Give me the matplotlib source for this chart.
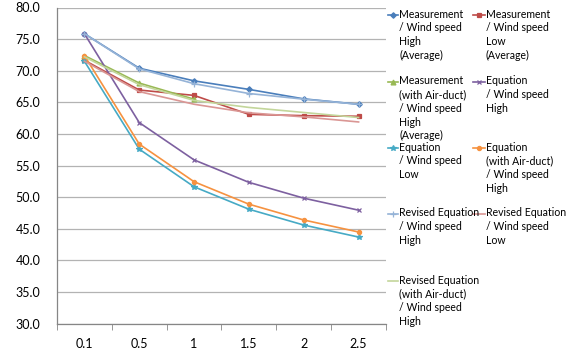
import matplotlib.pyplot as plt
from matplotlib.lines import Line2D
from matplotlib.ticker import FixedLocator

plt.rcParams['font.family'] = ['Lato', 'DejaVu Sans']

# wind speed categories
speeds = ["0.1", "0.5", "1", "1.5", "2", "2.5"]

meas_high = [75.85, 70.4, 68.4, 67.05, 65.55, 64.7]
meas_low = [71.65, 66.95, 66.1, 63.1, 62.9, 62.8]
meas_duct_high = [72.4, 68.05, 65.5]
eq_high = [75.85, 61.8, 55.9, 52.35, 49.85, 47.95]
eq_low = [71.5, 57.6, 51.65, 48.1, 45.6, 43.7]
eq_duct_high = [72.4, 58.4, 52.45, 48.9, 46.4, 44.5]
rev_high = [75.85, 70.3, 67.95, 66.4, 65.5, 64.7]
rev_low = [71.5, 66.7, 64.7, 63.35, 62.7, 61.9]
rev_duct_high = [72.2, 67.8, 65.3, 64.2, 63.4, 62.6]

series = [
    ("Measurement\n/ Wind speed\nHigh\n(Average)", meas_high, "#4A7EBB", "D", 2.8),
    ("Measurement\n/ Wind speed\nLow\n(Average)", meas_low, "#BE4B48", "s", 3.3),
    ("Measurement\n(with Air-duct)\n/ Wind speed\nHigh\n(Average)", meas_duct_high, "#98B954", "^", 3.5),
    ("Equation\n/ Wind speed\nHigh", eq_high, "#7D60A0", "x", 3.2),
    ("Equation\n/ Wind speed\nLow", eq_low, "#46AAC5", "*", 4.2),
    ("Equation\n(with Air-duct)\n/ Wind speed\nHigh", eq_duct_high, "#F69240", "o", 3),
    ("Revised Equation\n/ Wind speed\nHigh", rev_high, "#95B3D7", "+", 4.2),
    ("Revised Equation\n/ Wind speed\nLow", rev_low, "#DA9694", None, 0),
    ("Revised Equation\n(with Air-duct)\n/ Wind speed\nHigh", rev_duct_high, "#C3D69B", None, 0),
]

fig = plt.figure(figsize=(5.78, 3.56), dpi=100)
W, H = 578, 356
ax = fig.add_axes([57 / W, 1 - 323.7 / H, (386 - 57) / W, (323.7 - 7.5) / H])

for label, vals, color, marker, ms in series:
    ax.plot(range(len(vals)), vals, color=color, lw=1.2, marker=marker,
            markersize=ms, markeredgewidth=0.9, zorder=3)

ax.set_xlim(-0.5, len(speeds) - 0.5)
ax.set_ylim(30, 80)
ax.set_yticks(range(30, 81, 5))
ax.set_yticklabels([f"{v:.1f}" for v in range(30, 81, 5)], fontsize=9, color="#000000")
ax.set_xticks(range(len(speeds)))
ax.set_xticklabels(speeds, fontsize=9)
ax.xaxis.set_minor_locator(FixedLocator([i - 0.5 for i in range(len(speeds) + 1)]))
ax.tick_params(axis="x", which="major", length=0, pad=10)
ax.tick_params(axis="x", which="minor", length=4, color="#868686")
ax.tick_params(axis="y", length=0, pad=12)
ax.grid(axis="y", color="#B3B3B3", lw=0.9)
ax.set_axisbelow(True)
for s in ("top", "right"):
    ax.spines[s].set_visible(False)
for s in ("left", "bottom"):
    ax.spines[s].set_color("#868686")
    ax.spines[s].set_linewidth(0.9)

# legend laid out in two columns to the right of the plot
col_x = [(388, 399), (473, 486)]
row_y = [15, 82, 148, 214, 281]
for i, (label, vals, color, marker, ms) in enumerate(series):
    r, c = divmod(i, 2)
    hx, tx = col_x[c]
    y = 1 - row_y[r] / H
    fig.add_artist(Line2D([hx / W, (tx - 1) / W], [y, y], color=color, lw=1.2,
                          transform=fig.transFigure))
    if marker:
        fig.add_artist(Line2D([(hx + tx - 1) / 2 / W], [y], color=color, marker=marker,
                              markersize=ms, markeredgewidth=0.9, transform=fig.transFigure))
    fig.text(tx / W, y + 6.5 / H, label, fontsize=7.6, va="top", ha="left",
             linespacing=1.3, color="#000000")

fig.savefig("out.png", dpi=100)
